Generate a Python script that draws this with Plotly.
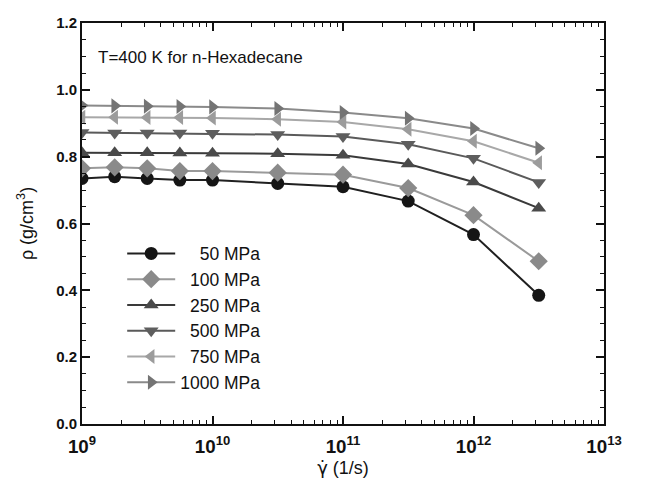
import plotly.graph_objects as go

shear_rate = [1e9, 1.78e9, 3.16e9, 5.62e9, 1e10, 3.16e10, 1e11, 3.16e11, 1e12, 3.16e12]
rho_50 = [0.735, 0.74, 0.735, 0.73, 0.73, 0.72, 0.71, 0.667, 0.567, 0.385]
rho_100 = [0.765, 0.768, 0.765, 0.757, 0.757, 0.752, 0.746, 0.706, 0.625, 0.487]
rho_250 = [0.812, 0.812, 0.812, 0.811, 0.81, 0.809, 0.804, 0.778, 0.724, 0.646]
rho_500 = [0.872, 0.871, 0.871, 0.871, 0.87, 0.866, 0.86, 0.837, 0.795, 0.723]
rho_750 = [0.918, 0.918, 0.917, 0.917, 0.916, 0.912, 0.904, 0.882, 0.846, 0.782]
rho_1000 = [0.953, 0.952, 0.951, 0.95, 0.949, 0.944, 0.932, 0.915, 0.884, 0.825]

labels = ["\u2007\u200750 MPa", "\u2007100 MPa", "\u2007250 MPa", "\u2007500 MPa", "\u2007750 MPa", "1000 MPa"]
series = [rho_50, rho_100, rho_250, rho_500, rho_750, rho_1000]
symbols = ["circle", "diamond", "triangle-up", "triangle-down", "triangle-left", "triangle-right"]
marker_colors = ["#151515", "#8a8a8a", "#4a4a4a", "#5e5e5e", "#9c9c9c", "#747474"]
line_colors = ["#202020", "#9a9a9a", "#3a3a3a", "#5a5a5a", "#a8a8a8", "#8a8a8a"]
sizes = [13, 14, 13, 13, 13, 13]

fig = go.Figure()
for lab, ys, sym, mc, lc, sz in zip(labels, series, symbols, marker_colors, line_colors, sizes):
    fig.add_trace(go.Scatter(
        x=shear_rate, y=ys, name=lab, mode="lines+markers",
        line=dict(color=lc, width=2),
        marker=dict(symbol=sym, size=sz, color=mc, line=dict(width=0)),
        cliponaxis=True,
    ))

font_family = "Liberation Sans, Arial, sans-serif"
fig.update_layout(
    width=647, height=487,
    margin=dict(l=82, r=43, t=23, b=63, autoexpand=False),
    paper_bgcolor="white", plot_bgcolor="white",
    font=dict(family=font_family, color="#111"),
    showlegend=True,
    legend=dict(x=0.077, y=0.47, xanchor="left", yanchor="top",
                bgcolor="rgba(0,0,0,0)", font=dict(size=17.5, color="#111"),
                tracegroupgap=0, itemwidth=48),
    annotations=[dict(text="T=400 K for n-Hexadecane", xref="paper", yref="paper",
                      x=0.026, y=0.915, xanchor="left", yanchor="middle",
                      showarrow=False, font=dict(size=17, color="#111"))],
)
fig.update_xaxes(
    type="log", range=[9, 13], dtick=1, exponentformat="power",
    showgrid=False, zeroline=False, automargin=False,
    showline=True, linecolor="#111", linewidth=2, mirror="ticks",
    ticks="inside", ticklen=8, tickwidth=1.5, tickcolor="#111",
    minor=dict(ticks="inside", ticklen=4, tickwidth=1, tickcolor="#111", dtick="D1", showgrid=False),
    tickfont=dict(size=15, weight="bold", color="#111"), ticklabelstandoff=5,
    title=dict(text="<span style='font-family:DejaVu Sans'>\u03b3\u0307</span> (1/s)",
               font=dict(size=18, color="#111"), standoff=6),
)
fig.update_yaxes(
    range=[0, 1.2], dtick=0.2, tickformat=".1f",
    showgrid=False, zeroline=False, automargin=False,
    showline=True, linecolor="#111", linewidth=2, mirror="ticks",
    ticks="inside", ticklen=8, tickwidth=1.5, tickcolor="#111",
    minor=dict(ticks="inside", ticklen=4, tickwidth=1, tickcolor="#111", dtick=0.05, showgrid=False),
    tickfont=dict(size=15, weight="bold", color="#111"),
    title=dict(text="\u03c1 (g/cm<sup>3</sup>)", font=dict(size=18, color="#111"), standoff=18),
)

fig.write_html("out.html", config={"displayModeBar": False},
               post_script="document.body.style.margin='0';")
